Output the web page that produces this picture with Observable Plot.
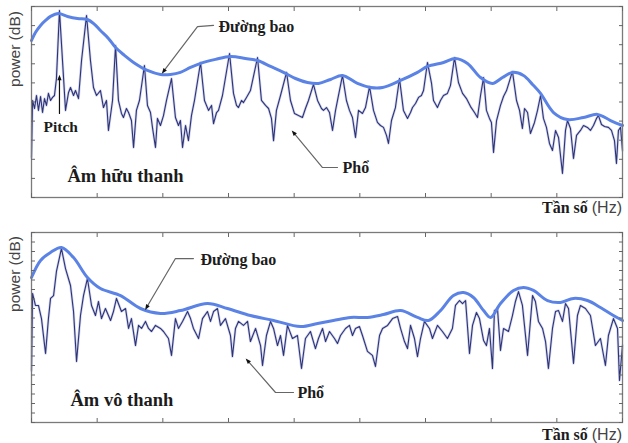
<!DOCTYPE html>
<html>
<head>
<meta charset="utf-8">
<script src="https://cdn.jsdelivr.net/npm/d3@7"></script>
<script src="https://cdn.jsdelivr.net/npm/@observablehq/plot@0.6"></script>
<style>
  html, body { margin: 0; padding: 0; background: #fff; }
  #wrap { position: relative; width: 628px; height: 443px; overflow: hidden; background: #fff; }
  .panel { position: absolute; left: 0; }
  .ylab { position: absolute; font-family: "Liberation Sans", Arial, sans-serif; font-size: 15.5px; color: #444;
          transform: translate(-50%, -50%) rotate(-90deg); white-space: nowrap; line-height: 1; }
  .xlab { position: absolute; right: 6px; white-space: nowrap; line-height: 1; }
  .xlab b { font-family: "Liberation Serif", "DejaVu Serif", serif; font-size: 16px; font-weight: bold; color: #1c1c1c; }
  .xlab span { font-family: "Liberation Sans", Arial, sans-serif; font-size: 16px; color: #444; }
</style>
</head>
<body>
<div id="wrap"></div>
<script>
// ---------- Data (frequency in Hz, power in dB) ----------
const xTicks = [0, 500, 1000, 1500, 2000, 2500, 3000, 3500, 4000, 4500];
const yTicksTop = [0, 10, 20, 30, 40, 50, 60, 70, 80, 90, 100];
const yTicksBottom = [0, 5, 10, 15, 20, 25, 30, 35, 40, 45, 50, 55, 60, 65, 70, 75, 80, 85, 90, 95, 100];

// Voiced sound (Âm hữu thanh): spectrum [Hz, dB]
const voicedSpectrum = [[0,20.9],[8,50.8],[23,46.6],[38,53.4],[53,45.6],[69,52.9],[84,44.5],[99,51.8],[114,48.2],[129,54.5],[145,50.8],[160,52.4],[175,53.4],[190,62.3],[213,97.9],[236,71.7],[259,45.6],[282,55.0],[297,57.6],[320,53.4],[335,56.0],[358,51.8],[381,71.7],[419,95.3],[449,71.7],[472,57.6],[495,53.4],[525,56.0],[548,47.1],[571,50.8],[586,35.1],[617,50.8],[640,79.6],[662,50.8],[685,44.0],[700,41.9],[723,46.6],[739,44.5],[761,40.3],[777,26.2],[799,45.6],[822,50.8],[860,69.1],[883,48.2],[906,44.5],[921,36.7],[944,26.2],[959,41.4],[982,37.7],[1005,42.9],[1028,50.8],[1066,62.3],[1096,41.9],[1119,37.7],[1134,40.3],[1150,26.2],[1173,37.7],[1195,29.8],[1218,42.9],[1241,50.8],[1287,70.7],[1317,50.8],[1348,45.6],[1371,48.2],[1386,38.7],[1409,44.5],[1424,45.6],[1454,53.4],[1508,75.4],[1538,54.5],[1561,48.2],[1576,47.1],[1599,50.8],[1614,49.7],[1637,52.4],[1667,56.0],[1721,73.3],[1751,50.8],[1782,48.2],[1805,46.6],[1827,41.4],[1843,29.8],[1865,45.6],[1896,53.4],[1942,65.5],[1972,50.8],[2002,44.0],[2033,42.9],[2063,41.9],[2086,46.6],[2109,50.8],[2147,59.2],[2178,50.8],[2208,46.6],[2223,45.6],[2246,47.1],[2269,44.5],[2292,35.1],[2315,45.6],[2330,50.8],[2368,63.9],[2398,50.8],[2421,45.6],[2444,41.9],[2467,31.4],[2490,45.6],[2520,44.0],[2543,47.1],[2574,58.1],[2604,45.6],[2634,39.3],[2657,37.7],[2680,36.7],[2703,32.5],[2718,28.3],[2741,40.3],[2771,47.1],[2802,62.3],[2832,45.6],[2863,41.4],[2886,44.5],[2901,47.1],[2924,49.2],[2947,52.4],[2969,53.4],[2985,56.0],[3015,70.7],[3046,59.7],[3061,50.8],[3091,47.1],[3114,50.8],[3137,53.4],[3167,54.5],[3190,58.6],[3221,73.3],[3251,60.2],[3282,54.5],[3312,51.8],[3343,47.6],[3373,44.5],[3396,41.9],[3419,53.4],[3442,62.8],[3464,45.6],[3487,41.4],[3502,39.3],[3518,23.6],[3541,40.3],[3571,48.2],[3594,52.9],[3617,56.0],[3662,66.0],[3693,50.8],[3716,45.6],[3738,36.1],[3754,46.6],[3777,44.5],[3799,33.5],[3830,39.3],[3853,45.6],[3876,53.4],[3898,41.4],[3921,36.7],[3944,28.3],[3967,24.6],[3990,35.1],[4013,31.4],[4043,12.6],[4066,35.1],[4081,40.3],[4104,36.1],[4127,20.4],[4150,32.5],[4180,35.1],[4203,37.7],[4233,36.7],[4256,35.1],[4279,37.7],[4302,41.4],[4317,42.9],[4340,38.2],[4363,37.2],[4393,36.7],[4416,35.1],[4439,29.8],[4454,17.8],[4469,35.1],[4485,36.7],[4500,24.6]];

// Voiced sound: envelope [Hz, dB]
const voicedEnvelope = [[0,82.2],[30,86.4],[69,90.1],[107,92.7],[145,94.8],[206,96.3],[274,94.8],[350,93.7],[426,93.2],[480,90.6],[525,87.4],[586,83.3],[640,78.5],[708,74.4],[777,70.7],[883,66.5],[982,64.4],[1058,64.4],[1134,65.5],[1211,68.1],[1287,70.2],[1401,72.3],[1515,73.8],[1629,72.8],[1721,71.7],[1820,68.6],[1919,65.5],[2010,62.3],[2101,60.2],[2185,59.7],[2277,61.8],[2368,63.9],[2482,59.7],[2581,57.6],[2673,57.6],[2810,61.3],[2939,65.5],[3015,68.6],[3137,70.7],[3228,72.8],[3320,70.2],[3419,62.8],[3510,59.7],[3586,62.8],[3662,65.5],[3746,63.9],[3815,59.2],[3876,54.5],[3975,44.5],[4081,40.8],[4203,41.9],[4310,43.5],[4409,40.3],[4500,37.7]];

// Unvoiced sound (Âm vô thanh): spectrum [Hz, dB]
const unvoicedSpectrum = [[0,27.4],[8,67.9],[30,61.6],[53,61.6],[76,54.7],[107,36.3],[129,54.7],[145,65.3],[168,66.8],[190,79.5],[228,91.6],[259,81.0],[297,72.1],[320,58.4],[343,32.1],[373,56.3],[396,66.8],[426,75.8],[457,61.6],[487,56.3],[510,63.7],[533,54.7],[563,60.0],[602,53.7],[624,58.4],[647,65.3],[685,58.4],[716,60.0],[739,49.5],[761,54.7],[792,40.5],[815,51.1],[838,49.5],[868,53.2],[891,49.5],[914,47.9],[944,51.1],[982,49.5],[1005,47.9],[1043,44.2],[1066,35.3],[1096,54.7],[1119,49.5],[1150,53.2],[1188,58.4],[1211,54.7],[1233,49.5],[1272,44.2],[1302,54.7],[1340,58.4],[1363,53.2],[1386,58.4],[1416,60.0],[1439,51.1],[1477,54.7],[1515,45.8],[1530,34.7],[1553,49.5],[1576,53.2],[1614,51.1],[1645,53.2],[1667,42.6],[1706,49.5],[1744,40.5],[1759,30.0],[1789,45.8],[1820,53.2],[1843,49.5],[1873,40.5],[1896,45.8],[1919,35.3],[1949,51.1],[1987,44.2],[2025,45.8],[2056,28.4],[2086,44.2],[2124,47.9],[2162,38.9],[2185,44.2],[2216,49.5],[2239,42.6],[2269,47.9],[2307,44.2],[2330,41.6],[2353,45.8],[2391,49.5],[2421,51.1],[2444,45.8],[2467,49.5],[2497,50.5],[2520,45.8],[2558,37.4],[2596,35.3],[2619,29.5],[2650,45.8],[2673,49.5],[2711,51.1],[2749,54.7],[2787,55.8],[2810,49.5],[2840,42.6],[2863,38.9],[2886,51.1],[2916,44.2],[2939,34.7],[2962,44.2],[2992,53.2],[3030,49.5],[3053,44.2],[3091,51.1],[3129,47.9],[3167,44.2],[3205,49.5],[3228,61.6],[3259,64.2],[3282,62.6],[3305,64.2],[3335,36.3],[3358,51.1],[3388,57.9],[3411,54.7],[3442,43.2],[3464,40.5],[3487,49.5],[3510,28.4],[3525,58.9],[3548,60.0],[3571,37.9],[3594,49.5],[3632,47.9],[3662,56.3],[3685,63.7],[3708,68.9],[3738,61.6],[3777,35.3],[3815,66.8],[3837,63.7],[3860,53.2],[3891,49.5],[3914,42.6],[3936,28.4],[3967,49.5],[3990,58.4],[4013,58.9],[4043,53.2],[4066,62.6],[4089,60.0],[4127,31.1],[4157,56.3],[4180,61.6],[4218,60.0],[4256,56.3],[4294,40.5],[4332,44.2],[4370,30.0],[4393,45.8],[4431,54.7],[4462,49.5],[4477,22.1],[4500,40.5]];

// Unvoiced sound: envelope [Hz, dB]
const unvoicedEnvelope = [[0,76.3],[69,85.3],[145,89.5],[228,92.1],[320,86.8],[426,76.3],[525,70.5],[678,66.8],[830,60.0],[982,57.4],[1134,58.9],[1340,62.6],[1492,60.0],[1667,56.3],[1843,53.7],[2048,50.5],[2178,52.1],[2299,53.7],[2429,55.3],[2558,55.3],[2680,56.8],[2810,58.9],[2939,55.3],[3023,53.7],[3114,58.9],[3213,66.8],[3289,68.4],[3365,65.8],[3442,58.9],[3495,55.3],[3571,62.6],[3670,69.5],[3746,71.1],[3822,69.5],[3929,64.2],[4028,63.2],[4127,65.3],[4233,64.2],[4332,60.5],[4431,56.3],[4500,53.7]];

// Annotation texts and anchor points [Hz, dB]
const envLabel = "Đường bao";
const specLabel = "Phổ";
const pitchLabel = "Pitch";
const voicedTitle = "Âm hữu thanh";
const unvoicedTitle = "Âm vô thanh";
const yAxisLabel = "power (dB)";
const xAxisLabelMain = "Tần số";
const xAxisLabelUnit = "(Hz)";

const voicedEnvLabelAt = [1424, 89.5];
const voicedEnvLeader = [[1386, 90.1], [1264, 89.5], [1005, 66.0]];
const voicedSpecLabelAt = [2368, 15.7];
const voicedSpecLeader = [[2330, 15.7], [2216, 15.7], [1995, 34.0]];
const pitchLabelAt = [91, 36.7];
const pitchArrow = [[213, 44.0], [213, 62.8]];
const voicedTitleAt = [274, 11.0];

const unvoicedEnvLabelAt = [1287, 85.8];
const unvoicedEnvLeader = [[1233, 86.3], [1096, 86.3], [876, 60.5]];
const unvoicedSpecLabelAt = [2025, 15.8];
const unvoicedSpecLeader = [[1995, 15.8], [1858, 15.8], [1645, 32.6]];
const unvoicedTitleAt = [297, 11.6];

// ---------- Drawing ----------
const toObj = (arr) => arr.map(([f, p]) => ({f, p}));
const serif = "Liberation Serif, DejaVu Serif, serif";

// filled arrowhead marker (falls back to Plot's built-in "arrow")
function filledArrow(color, context) {
  const doc = (context && context.document) || document;
  const m = doc.createElementNS("http://www.w3.org/2000/svg", "marker");
  m.setAttribute("viewBox", "-5 -5 10 10");
  m.setAttribute("markerWidth", "7");
  m.setAttribute("markerHeight", "7");
  m.setAttribute("orient", "auto");
  m.setAttribute("markerUnits", "userSpaceOnUse");
  const p = doc.createElementNS("http://www.w3.org/2000/svg", "path");
  p.setAttribute("d", "M-4,-3L4,0L-4,3Z");
  p.setAttribute("fill", "#111");
  p.setAttribute("stroke", "none");
  m.appendChild(p);
  return m;
}

function panel(opts, marker) {
  const {spectrum, envelope, yTicks, height, marginTop, marginBottom,
         envLabelAt, envLeader, specLabelAt, specLeader, title, titleAt, pitch} = opts;
  const marks = [
    Plot.line(toObj(spectrum), {x: "f", y: "p", stroke: "#9aa2dc", strokeWidth: 2.6, strokeOpacity: 0.45}),
    Plot.line(toObj(spectrum), {x: "f", y: "p", stroke: "#2e3374", strokeWidth: 1.1}),
    Plot.line(toObj(envelope), {x: "f", y: "p", curve: "catmull-rom", stroke: "#5b83e6", strokeWidth: 3}),
    Plot.line(toObj(envLeader), {x: "f", y: "p", stroke: "#666", strokeWidth: 1.2, markerEnd: marker}),
    Plot.line(toObj(specLeader), {x: "f", y: "p", stroke: "#666", strokeWidth: 1.2, markerEnd: marker}),
    Plot.text([envLabel], {x: () => envLabelAt[0], y: () => envLabelAt[1], text: d => d, textAnchor: "start",
      lineAnchor: "middle", fontFamily: serif, fontWeight: "bold", fontSize: 16, fill: "#1c1c1c"}),
    Plot.text([specLabel], {x: () => specLabelAt[0], y: () => specLabelAt[1], text: d => d, textAnchor: "start",
      lineAnchor: "middle", fontFamily: serif, fontWeight: "bold", fontSize: 16, fill: "#1c1c1c"}),
    Plot.text([title], {x: () => titleAt[0], y: () => titleAt[1], text: d => d, textAnchor: "start",
      lineAnchor: "middle", fontFamily: serif, fontWeight: "bold", fontSize: 18.5, fill: "#1c1c1c"}),
    Plot.frame({stroke: "#7a7a7a", strokeWidth: 1.3}),
    Plot.axisX({ticks: xTicks, anchor: "bottom", tickSize: -4, tickFormat: () => "", label: null, stroke: "#666"}),
    Plot.axisX({ticks: xTicks, anchor: "top", tickSize: -4, tickFormat: () => "", label: null, stroke: "#666"}),
    Plot.axisY({ticks: yTicks, anchor: "left", tickSize: -4, tickFormat: () => "", label: null, stroke: "#666"}),
    Plot.axisY({ticks: yTicks, anchor: "right", tickSize: -4, tickFormat: () => "", label: null, stroke: "#666"})
  ];
  if (pitch) {
    marks.push(Plot.line(toObj(pitch.arrow), {x: "f", y: "p", stroke: "#111", strokeWidth: 1.2, markerEnd: marker}));
    marks.push(Plot.text([pitch.label], {x: () => pitch.at[0], y: () => pitch.at[1], text: d => d, textAnchor: "start",
      lineAnchor: "middle", fontFamily: serif, fontWeight: "bold", fontSize: 15.5, fill: "#1c1c1c"}));
  }
  return Plot.plot({
    width: 628, height, marginLeft: 31, marginRight: 6, marginTop, marginBottom,
    style: {background: "transparent", overflow: "visible"},
    x: {domain: [0, 4500]},
    y: {domain: [0, 100]},
    marks
  });
}

function safePanel(opts) {
  try { return panel(opts, filledArrow); }
  catch (e) { return panel(opts, "arrow"); }
}

const wrap = document.getElementById("wrap");

const topPanel = safePanel({
  spectrum: voicedSpectrum, envelope: voicedEnvelope, yTicks: yTicksTop,
  height: 220, marginTop: 6, marginBottom: 23,
  envLabelAt: voicedEnvLabelAt, envLeader: voicedEnvLeader,
  specLabelAt: voicedSpecLabelAt, specLeader: voicedSpecLeader,
  title: voicedTitle, titleAt: voicedTitleAt,
  pitch: {label: pitchLabel, at: pitchLabelAt, arrow: pitchArrow}
});
topPanel.classList.add("panel"); topPanel.style.top = "0px";
wrap.appendChild(topPanel);

const bottomPanel = safePanel({
  spectrum: unvoicedSpectrum, envelope: unvoicedEnvelope, yTicks: yTicksBottom,
  height: 223, marginTop: 12, marginBottom: 21,
  envLabelAt: unvoicedEnvLabelAt, envLeader: unvoicedEnvLeader,
  specLabelAt: unvoicedSpecLabelAt, specLeader: unvoicedSpecLeader,
  title: unvoicedTitle, titleAt: unvoicedTitleAt
});
bottomPanel.classList.add("panel"); bottomPanel.style.top = "220px";
wrap.appendChild(bottomPanel);

// Axis titles
function addYLabel(cy) {
  const d = document.createElement("div");
  d.className = "ylab"; d.textContent = yAxisLabel;
  d.style.left = "15px"; d.style.top = cy + "px";
  wrap.appendChild(d);
}
function addXLabel(topPx) {
  const d = document.createElement("div");
  d.className = "xlab"; d.style.top = topPx + "px";
  const b = document.createElement("b"); b.textContent = xAxisLabelMain + " ";
  const s = document.createElement("span"); s.textContent = xAxisLabelUnit;
  d.appendChild(b); d.appendChild(s);
  wrap.appendChild(d);
}
addYLabel(49); addYLabel(274);
addXLabel(200); addXLabel(427);
</script>
</body>
</html>
